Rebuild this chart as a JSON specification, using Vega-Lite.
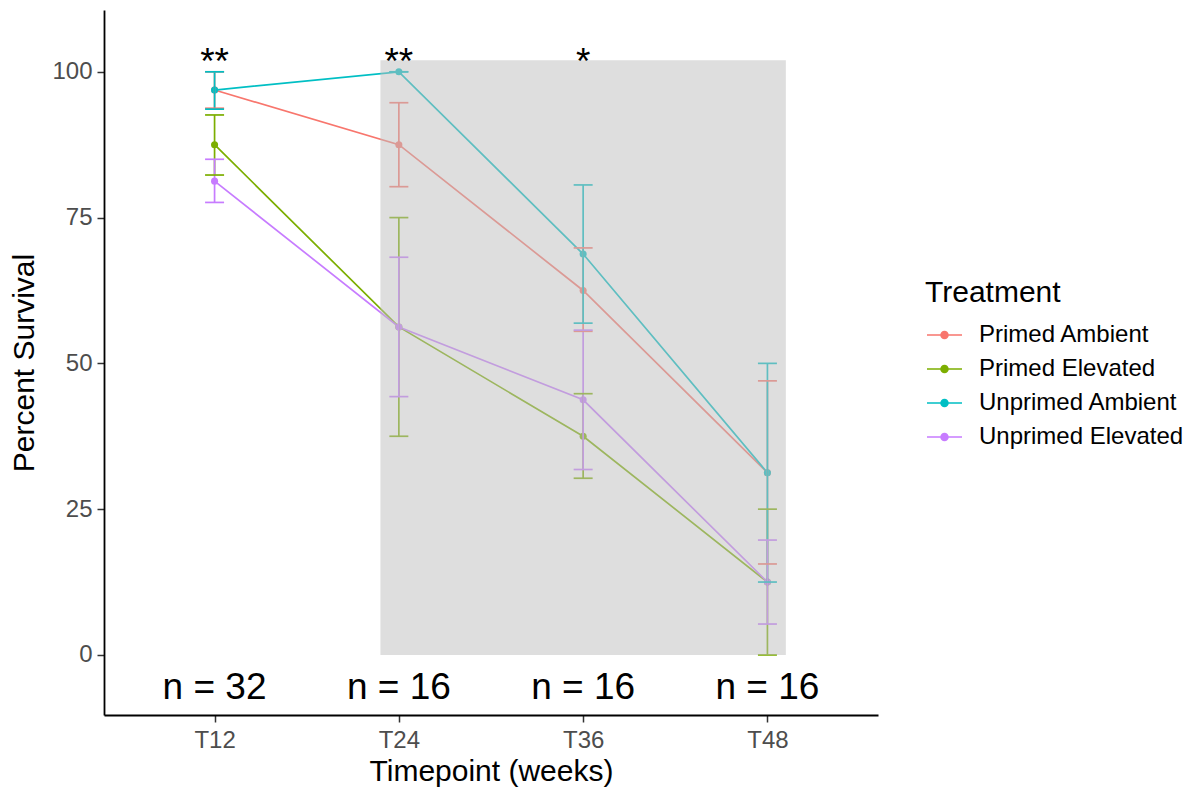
{
  "$schema": "https://vega.github.io/schema/vega-lite/v6.json",
  "width": 774,
  "height": 705,
  "autosize": {"type": "none"},
  "padding": {"left": 104, "top": 10, "right": 312, "bottom": 77},
  "background": "white",
  "config": {
    "font": "Liberation Sans",
    "view": {"stroke": null},
    "axis": {
      "grid": false,
      "domainColor": "black",
      "domainWidth": 1.8,
      "tickColor": "#333333",
      "tickWidth": 1.5,
      "tickSize": 7,
      "labelColor": "#4d4d4d",
      "labelFont": "Liberation Sans",
      "labelFontSize": 24,
      "titleFont": "Liberation Sans",
      "titleFontSize": 30,
      "titleFontWeight": "normal",
      "titleColor": "black"
    }
  },
  "datasets": {
    "survival": [
      {"treatment": "Primed Ambient", "week": 12, "mean": 96.875, "lower": 93.75, "upper": 100},
      {"treatment": "Primed Elevated", "week": 12, "mean": 87.5, "lower": 82.3, "upper": 92.6},
      {"treatment": "Unprimed Ambient", "week": 12, "mean": 96.875, "lower": 93.6, "upper": 100},
      {"treatment": "Unprimed Elevated", "week": 12, "mean": 81.25, "lower": 77.6, "upper": 85.0},
      {"treatment": "Primed Ambient", "week": 24, "mean": 87.5, "lower": 80.3, "upper": 94.7},
      {"treatment": "Primed Elevated", "week": 24, "mean": 56.25, "lower": 37.5, "upper": 75.0},
      {"treatment": "Unprimed Ambient", "week": 24, "mean": 100, "lower": 100, "upper": 100},
      {"treatment": "Unprimed Elevated", "week": 24, "mean": 56.25, "lower": 44.3, "upper": 68.2},
      {"treatment": "Primed Ambient", "week": 36, "mean": 62.5, "lower": 55.5, "upper": 69.8},
      {"treatment": "Primed Elevated", "week": 36, "mean": 37.5, "lower": 30.3, "upper": 44.8},
      {"treatment": "Unprimed Ambient", "week": 36, "mean": 68.75, "lower": 56.9, "upper": 80.6},
      {"treatment": "Unprimed Elevated", "week": 36, "mean": 43.75, "lower": 31.8, "upper": 55.7},
      {"treatment": "Primed Ambient", "week": 48, "mean": 31.25, "lower": 15.6, "upper": 47.0},
      {"treatment": "Primed Elevated", "week": 48, "mean": 12.5, "lower": 0, "upper": 25.0},
      {"treatment": "Unprimed Ambient", "week": 48, "mean": 31.25, "lower": 12.5, "upper": 50.0},
      {"treatment": "Unprimed Elevated", "week": 48, "mean": 12.5, "lower": 5.3, "upper": 19.7}
    ],
    "shade": [
      {"start": 22.8, "end": 49.2, "low": 0, "high": 102}
    ],
    "notes": [
      {"week": 12, "pos": 101.5, "label": "**"},
      {"week": 24, "pos": 101.5, "label": "**"},
      {"week": 36, "pos": 101.5, "label": "*"},
      {"week": 12, "pos": -5.6, "label": "n = 32"},
      {"week": 24, "pos": -5.6, "label": "n = 16"},
      {"week": 36, "pos": -5.6, "label": "n = 16"},
      {"week": 48, "pos": -5.6, "label": "n = 16"}
    ]
  },
  "layer": [
    {
      "data": {"name": "survival"},
      "encoding": {
        "x": {
          "field": "week",
          "type": "quantitative",
          "title": "Timepoint (weeks)",
          "scale": {"domain": [4.8, 55.2], "nice": false, "zero": false},
          "axis": {"values": [12, 24, 36, 48], "labelExpr": "'T' + datum.value", "labelPadding": 6, "titlePadding": 4}
        },
        "color": {
          "field": "treatment",
          "type": "nominal",
          "scale": {
            "domain": ["Primed Ambient", "Primed Elevated", "Unprimed Ambient", "Unprimed Elevated"],
            "range": ["#F8766D", "#7CAE00", "#00BFC4", "#C77CFF"]
          },
          "legend": {
            "orient": "none",
            "legendX": 821,
            "legendY": 268,
            "title": "Treatment",
            "titleFontSize": 30,
            "titleFontWeight": "normal",
            "titleColor": "black",
            "titlePadding": 15,
            "labelFontSize": 24,
            "labelColor": "black",
            "labelLimit": 320,
            "labelOffset": 30,
            "symbolType": "M-1,0L2.5,0M1.1,0A0.35,0.35,0,1,1,0.4,0A0.35,0.35,0,1,1,1.1,0Z",
            "symbolSize": 400,
            "symbolStrokeWidth": 1.5,
            "rowPadding": 10,
            "padding": 0,
            "encode": {
              "symbols": {
                "update": {
                  "stroke": {"scale": "color", "field": "value"},
                  "fill": {"scale": "color", "field": "value"},
                  "opacity": {"value": 1}
                }
              }
            }
          }
        }
      },
      "layer": [
        {
          "mark": {"type": "line", "strokeWidth": 1.7},
          "encoding": {
            "y": {
              "field": "mean",
              "type": "quantitative",
              "title": "Percent Survival",
              "scale": {"domain": [-10.3, 110.6], "nice": false, "zero": false},
              "axis": {"values": [0, 25, 50, 75, 100], "labelPadding": 5, "titlePadding": 12}
            }
          }
        },
        {
          "mark": {"type": "point", "filled": true, "size": 50, "opacity": 1},
          "encoding": {"y": {"field": "mean", "type": "quantitative", "title": "Percent Survival"}}
        },
        {
          "mark": {"type": "rule", "strokeWidth": 1.7},
          "encoding": {
            "y": {"field": "lower", "type": "quantitative", "title": "Percent Survival"},
            "y2": {"field": "upper"}
          }
        },
        {
          "mark": {"type": "tick", "orient": "horizontal", "size": 19, "thickness": 1.7, "opacity": 1},
          "encoding": {"y": {"field": "lower", "type": "quantitative", "title": "Percent Survival"}}
        },
        {
          "mark": {"type": "tick", "orient": "horizontal", "size": 19, "thickness": 1.7, "opacity": 1},
          "encoding": {"y": {"field": "upper", "type": "quantitative", "title": "Percent Survival"}}
        }
      ]
    },
    {
      "data": {"name": "shade"},
      "mark": {"type": "rect", "color": "#bebebe", "opacity": 0.5},
      "encoding": {
        "x": {"field": "start", "type": "quantitative", "title": "Timepoint (weeks)"},
        "x2": {"field": "end"},
        "y": {"field": "low", "type": "quantitative", "title": "Percent Survival"},
        "y2": {"field": "high"}
      }
    },
    {
      "data": {"name": "notes"},
      "mark": {"type": "text", "fontSize": 37, "color": "black", "align": "center", "baseline": "middle", "font": "Liberation Sans"},
      "encoding": {
        "x": {"field": "week", "type": "quantitative", "title": "Timepoint (weeks)"},
        "y": {"field": "pos", "type": "quantitative", "title": "Percent Survival"},
        "text": {"field": "label"}
      }
    }
  ]
}
